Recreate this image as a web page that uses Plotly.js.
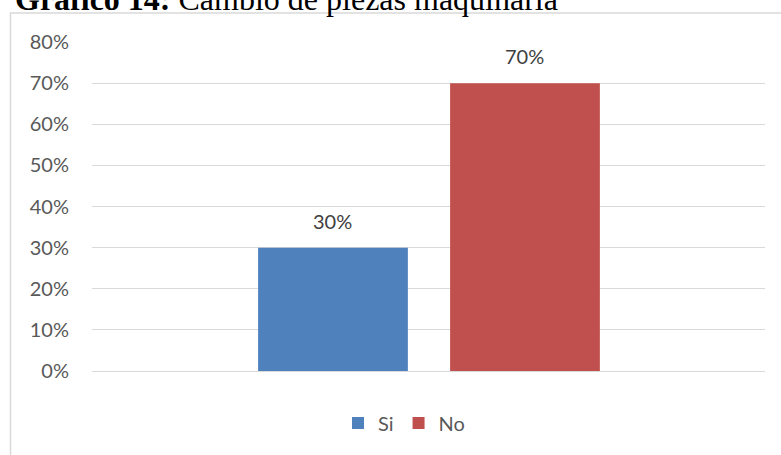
<!DOCTYPE html>
<html>
<head>
<meta charset="utf-8">
<script src="https://cdn.plot.ly/plotly-3.0.1.min.js"></script>
<style>
  html, body { margin: 0; padding: 0; background: #ffffff; }
  #chart { width: 781px; height: 455px; }
</style>
</head>
<body>
<div id="chart"></div>
<script>
// Respuestas: ¿Se realizó cambio de piezas de la maquinaria?
const categories = ["Si", "No"];
const values = [0.30, 0.70];
const colors = ["#4F81BD", "#C0504D"];
const yTickValues = [0, 0.1, 0.2, 0.3, 0.4, 0.5, 0.6, 0.7, 0.8];

const labelFont = { family: "Lato, 'Open Sans', sans-serif", size: 20 };

const traces = categories.map((name, i) => ({
  type: "bar",
  name: name,
  x: [i],
  y: [values[i]],
  width: 0.78,
  marker: { color: colors[i] },
  hoverinfo: "name+y"
}));

// Value labels above each bar
const valueLabels = categories.map((name, i) => ({
  x: i,
  y: values[i],
  xref: "x",
  yref: "y",
  text: Math.round(values[i] * 100) + "%",
  showarrow: false,
  yanchor: "bottom",
  yshift: 13,
  font: Object.assign({}, labelFont, { color: "#404040" })
}));

const layout = {
  width: 781,
  height: 455,
  margin: { l: 92, r: 16, t: 42, b: 84 },
  paper_bgcolor: "#ffffff",
  plot_bgcolor: "#ffffff",
  barmode: "overlay",
  title: {
    text: "<b>Gráfico 14:</b> Cambio de piezas maquinaria",
    font: { family: "'Liberation Serif', 'Times New Roman', serif", size: 32, color: "#000000" },
    xref: "container",
    yref: "container",
    x: 15 / 781,
    xanchor: "left",
    y: 1 - 10 / 455,
    yanchor: "bottom"
  },
  xaxis: {
    range: [-1.255, 2.25],
    showticklabels: false,
    showgrid: false,
    zeroline: false,
    showline: false,
    fixedrange: true
  },
  yaxis: {
    range: [0, 0.8],
    tickvals: yTickValues,
    tickformat: ".0%",
    tickfont: Object.assign({}, labelFont, { color: "#595959" }),
    ticklabelstandoff: 22,
    showgrid: true,
    gridcolor: "#d9d9d9",
    gridwidth: 1,
    zeroline: true,
    zerolinecolor: "#d9d9d9",
    zerolinewidth: 1,
    showline: false,
    ticks: "",
    fixedrange: true
  },
  showlegend: true,
  legend: {
    orientation: "h",
    xref: "container",
    yref: "container",
    x: 404 / 781,
    xanchor: "center",
    y: 1 - 423 / 455,
    yanchor: "middle",
    font: Object.assign({}, labelFont, { color: "#595959" }),
    itemwidth: 30,
    tracegroupgap: 0
  },
  annotations: valueLabels,
  shapes: [
    // chart frame
    {
      type: "rect",
      xref: "paper",
      yref: "paper",
      x0: (10.5 - 92) / 673,
      x1: (800 - 92) / 673,
      y0: (371 - 480) / 329,
      y1: (371 - 13) / 329,
      line: { color: "#d9d9d9", width: 1.5 },
      fillcolor: "rgba(0,0,0,0)",
      layer: "below"
    }
  ]
};

Plotly.newPlot("chart", traces, layout, { displayModeBar: false, staticPlot: true });
</script>
</body>
</html>
